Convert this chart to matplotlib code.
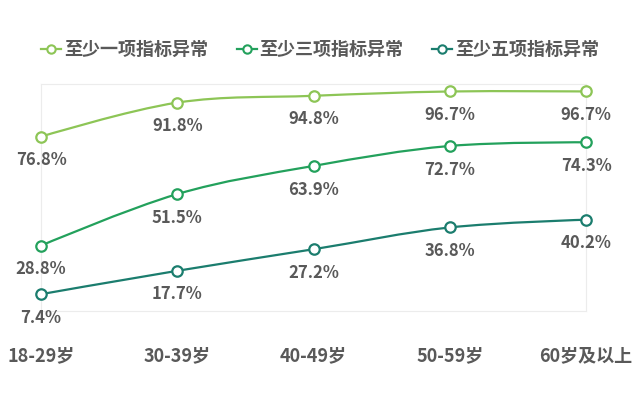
import numpy as np
import matplotlib
matplotlib.use('Agg')
import matplotlib.pyplot as plt
from matplotlib.path import Path
from matplotlib.patches import PathPatch
from matplotlib.lines import Line2D

plt.rcParams['font.family'] = ['Noto Sans CJK SC', 'DejaVu Sans']

# dados
faixas = ['18-29岁', '30-39岁', '40-49岁', '50-59岁', '60岁及以上']
series_nomes = ['至少一项指标异常', '至少三项指标异常', '至少五项指标异常']
pelo_menos_1 = [76.8, 91.8, 94.8, 96.7, 96.7]
pelo_menos_3 = [28.8, 51.5, 63.9, 72.7, 74.3]
pelo_menos_5 = [7.4, 17.7, 27.2, 36.8, 40.2]
cores = ['#8dc556', '#23a15c', '#1b7d6e']
cinza = '#595959'


def curva_suave(ax, xs, ys, cor, suave=0.35):
    # curva bezier passando pelos pontos (estilo "smooth")
    pts = np.column_stack([xs, ys]).astype(float)
    n = len(pts)
    verts = [pts[0]]
    codes = [Path.MOVETO]
    for i in range(n - 1):
        p0 = pts[i]
        p1 = pts[i + 1]
        prev = pts[i - 1] if i > 0 else p0
        nxt = pts[i + 2] if i + 2 < n else p1
        c1 = p0 + (p1 - prev) * suave / 2 if i > 0 else p0
        c2 = p1 - (nxt - p0) * suave / 2 if i + 2 < n else p1
        verts += [c1, c2, p1]
        codes += [Path.CURVE4] * 3
    patch = PathPatch(Path(verts, codes), facecolor='none', edgecolor=cor,
                      lw=1.6, clip_on=False, zorder=2)
    ax.add_patch(patch)


fig = plt.figure(figsize=(6.4, 3.99), dpi=100)
ax = fig.add_axes([0.0641, 0.2206, 0.8516, 0.5689])

x = np.arange(len(faixas))
for vals, cor in zip([pelo_menos_1, pelo_menos_3, pelo_menos_5], cores):
    curva_suave(ax, x, vals, cor)
    ax.plot(x, vals, linestyle='none', marker='o', markersize=7.5,
            markerfacecolor='white', markeredgecolor=cor, markeredgewidth=1.6,
            clip_on=False, zorder=3)
    for xi, v in zip(x, vals):
        ax.annotate(f'{v}%', (xi, v), xytext=(0, -17), textcoords='offset points',
                    ha='center', va='center', fontsize=12, fontweight='bold',
                    color=cinza)

ax.set_xlim(0, len(faixas) - 1)
ax.set_ylim(0, 100)
ax.set_xticks(x)
ax.set_xticklabels(faixas, fontsize=13, fontweight='bold', color=cinza)
ax.set_yticks([])
ax.tick_params(axis='x', length=0, pad=25)
for s in ax.spines.values():
    s.set_color('#ececec')
    s.set_linewidth(0.8)

handles = [Line2D([0], [0], color=c, lw=1.6, marker='o', markersize=6,
                  markerfacecolor='white', markeredgecolor=c, markeredgewidth=1.5)
           for c in cores]
leg = fig.legend(handles, series_nomes, loc='center', bbox_to_anchor=(0.5, 0.875),
                 ncol=3, frameon=False, handlelength=1.1, handletextpad=0.15,
                 columnspacing=1.6, prop={'size': 13, 'weight': 'bold'})
for t in leg.get_texts():
    t.set_color(cinza)

plt.savefig('out.png', dpi=100)
